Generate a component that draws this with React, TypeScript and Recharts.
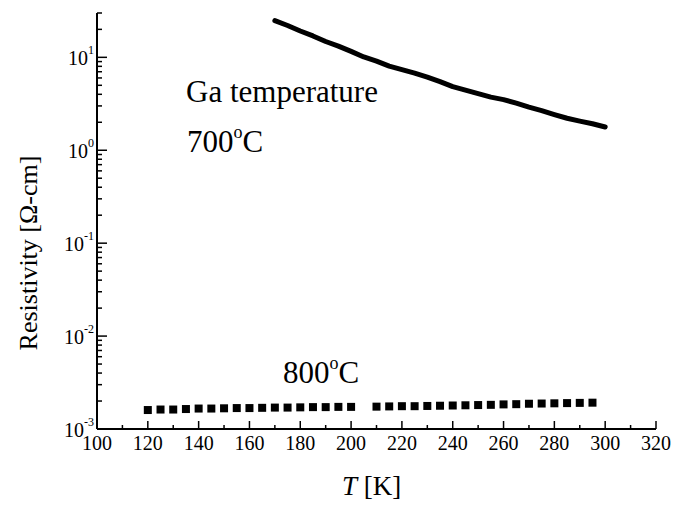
import { ComposedChart, Line, Scatter, XAxis, YAxis } from 'recharts';

const temps700 = [170, 175, 180, 185, 190, 195, 200, 205, 210, 215, 220, 225, 230, 235, 240, 245, 250, 255, 260, 265, 270, 275, 280, 285, 290, 295, 300];
const rho700 = [24.8, 22.0, 19.2, 17.0, 14.8, 13.2, 11.6, 10.1, 9.1, 8.05, 7.38, 6.77, 6.13, 5.48, 4.84, 4.44, 4.07, 3.73, 3.51, 3.21, 2.91, 2.67, 2.42, 2.21, 2.06, 1.93, 1.78];

const temps800 = [120, 125, 130, 135, 140, 145, 150, 155, 160, 165, 170, 175, 180, 185, 190, 195, 200, 210, 215, 220, 225, 230, 235, 240, 245, 250, 255, 260, 265, 270, 275, 280, 285, 290, 295];
const rho800 = [0.0016, 0.00162, 0.00162, 0.00164, 0.00166, 0.00166, 0.00167, 0.00168, 0.00168, 0.00169, 0.0017, 0.0017, 0.00171, 0.00172, 0.00172, 0.00173, 0.00173, 0.00174, 0.00175, 0.00176, 0.00176, 0.00177, 0.00178, 0.00179, 0.0018, 0.00181, 0.00182, 0.00184, 0.00185, 0.00187, 0.00188, 0.00189, 0.0019, 0.00191, 0.00192];

const xTicks = [100, 110, 120, 130, 140, 150, 160, 170, 180, 190, 200, 210, 220, 230, 240, 250, 260, 270, 280, 290, 300, 310, 320];
const yTicks = [
  0.001, 0.002, 0.003, 0.004, 0.005, 0.006, 0.007, 0.008, 0.009,
  0.01, 0.02, 0.03, 0.04, 0.05, 0.06, 0.07, 0.08, 0.09,
  0.1, 0.2, 0.3, 0.4, 0.5, 0.6, 0.7, 0.8, 0.9,
  1, 2, 3, 4, 5, 6, 7, 8, 9,
  10, 20, 30,
];

const data700 = temps700.map((T, i) => ({ T, rho: rho700[i] }));
const data800 = temps800.map((T, i) => ({ T, rho: rho800[i] }));

const FONT = "'Liberation Serif', Tinos, 'Times New Roman', 'DejaVu Serif', serif";
const serif = { fontFamily: FONT };
const LEFT = 97;
const RIGHT = 656;
const TOP = 13;
const BOTTOM = 429;

const isDecade = (v: number) => Math.abs(Math.log10(v) - Math.round(Math.log10(v))) < 1e-6;

function LeftTick({ y, payload }: any) {
  const v = payload.value;
  const major = isDecade(v);
  return (
    <g>
      <line x1={LEFT} x2={LEFT + (major ? 10 : 5)} y1={y} y2={y} stroke="#000" strokeWidth={1.5} />
      {major && (
        <text x={94} y={y + 8} textAnchor="end" style={serif} fontSize={20} fill="#000">
          <tspan>10</tspan>
          <tspan dy={-11} fontSize={12}>{Math.round(Math.log10(v))}</tspan>
        </text>
      )}
    </g>
  );
}

function RightTick({ y, payload }: any) {
  const major = isDecade(payload.value);
  return <line x1={RIGHT} x2={RIGHT - (major ? 10 : 5)} y1={y} y2={y} stroke="#000" strokeWidth={1.5} />;
}

function BottomTick({ x, payload }: any) {
  const major = payload.value % 20 === 0;
  return (
    <g>
      <line x1={x} x2={x} y1={BOTTOM} y2={BOTTOM - (major ? 8 : 4)} stroke="#000" strokeWidth={1.5} />
      {major && (
        <text x={x} y={450} textAnchor="middle" style={serif} fontSize={20} fill="#000">
          {payload.value}
        </text>
      )}
    </g>
  );
}

function TopTick({ x, payload }: any) {
  const major = payload.value % 20 === 0;
  return <line x1={x} x2={x} y1={TOP} y2={TOP + (major ? 8 : 4)} stroke="#000" strokeWidth={1.5} />;
}

const square = (props: any) => (
  <rect x={props.cx - 4} y={props.cy - 4} width={8} height={8} fill="#000" />
);

export default function App() {
  const axisLine = { stroke: '#000', strokeWidth: 2 };
  return (
    <div style={{ position: 'absolute', left: 0, top: 0, width: 675, height: 511, background: '#fff', ...serif }}>
      <ComposedChart width={675} height={511} margin={{ top: TOP, right: 675 - RIGHT, bottom: 0, left: 0 }}>
        <XAxis
          dataKey="T"
          type="number"
          domain={[100, 320]}
          ticks={xTicks}
          interval={0}
          height={511 - BOTTOM}
          axisLine={axisLine}
          tickLine={false}
          tick={<BottomTick />}
        />
        <XAxis
          xAxisId="t"
          orientation="top"
          dataKey="T"
          type="number"
          domain={[100, 320]}
          ticks={xTicks}
          interval={0}
          height={0}
          axisLine={axisLine}
          tickLine={false}
          tick={<TopTick />}
        />
        <YAxis
          dataKey="rho"
          type="number"
          scale="log"
          domain={[0.001, 30]}
          allowDataOverflow
          ticks={yTicks}
          interval={0}
          width={LEFT}
          axisLine={axisLine}
          tickLine={false}
          tick={<LeftTick />}
        />
        <YAxis
          yAxisId="r"
          orientation="right"
          dataKey="rho"
          type="number"
          scale="log"
          domain={[0.001, 30]}
          allowDataOverflow
          ticks={yTicks}
          interval={0}
          width={0}
          axisLine={axisLine}
          tickLine={false}
          tick={<RightTick />}
        />
        <Line
          data={data700}
          dataKey="rho"
          stroke="#000"
          strokeWidth={5}
          strokeLinecap="round"
          strokeLinejoin="round"
          dot={false}
          type="linear"
          isAnimationActive={false}
        />
        <Scatter data={data800} dataKey="rho" fill="#000" shape={square} isAnimationActive={false} />
      </ComposedChart>
      <svg
        width={675}
        height={511}
        style={{ position: 'absolute', left: 0, top: 0, pointerEvents: 'none', ...serif }}
        fill="#000"
      >
        <text x={186} y={102} fontSize={31} style={serif}>Ga temperature</text>
        <text x={187} y={152} fontSize={31} style={serif}>
          <tspan>700</tspan>
          <tspan dy={-14} fontSize={18}>o</tspan>
          <tspan dy={14}>C</tspan>
        </text>
        <text x={283} y={383} fontSize={31} style={serif}>
          <tspan>800</tspan>
          <tspan dy={-14} fontSize={18}>o</tspan>
          <tspan dy={14}>C</tspan>
        </text>
        <text x={342} y={495} fontSize={27} style={serif}>
          <tspan fontStyle="italic">T</tspan>
          <tspan> [K]</tspan>
        </text>
        <text x={37} y={253} fontSize={26} textAnchor="middle" transform="rotate(-90 37 253)" style={serif}>
          Resistivity [Ω-cm]
        </text>
      </svg>
    </div>
  );
}
